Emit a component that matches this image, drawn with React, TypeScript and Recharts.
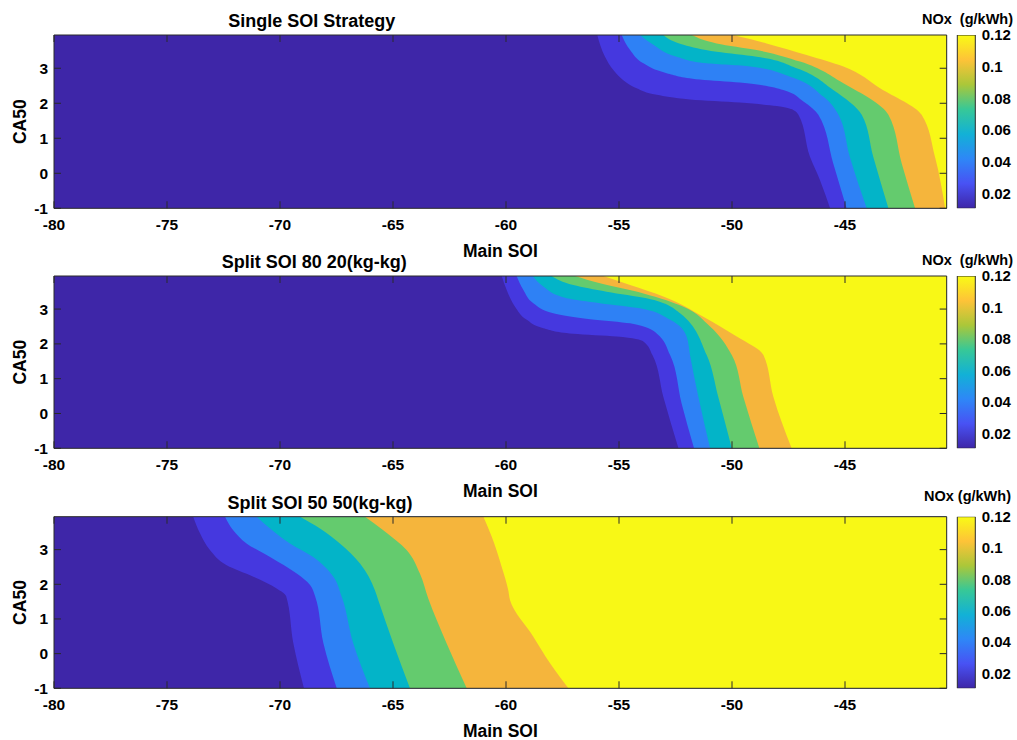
import React from "react";
import {
  ComposedChart,
  Area,
  Bar,
  XAxis,
  YAxis,
  CartesianGrid,
} from "recharts";

// [CA50, Main SOI] points along each contour edge, bottom to top
type Pt = [number, number];

const soiTicks = [-80, -75, -70, -65, -60, -55, -50, -45];
const ca50Ticks = [-1, 0, 1, 2, 3];
const noxTicks = [0.02, 0.04, 0.06, 0.08, 0.1, 0.12];
const soiDomain: [number, number] = [-80, -40.5];
const ca50Domain: [number, number] = [-1, 3.95];
const noxRange: [number, number] = [0.0105, 0.12];

// Single SOI strategy: edges between the 7 NOx bands (low -> high)
const singleEdges: Pt[][] = [
  [[-1, -45.66], [-0.19, -46.11], [0.47, -46.55], [1.67, -47.06], [1.81, -47.29], [1.92, -48.02], [2.02, -49.65], [2.11, -51.86], [2.24, -53.33], [2.43, -54.22], [2.66, -54.81], [2.95, -55.25], [3.33, -55.62], [3.95, -55.96]],
  [[-1, -44.93], [0.28, -45.52], [1.67, -46.18], [2.05, -46.84], [2.38, -47.73], [2.59, -49.65], [2.68, -51.42], [2.86, -52.89], [3.14, -53.92], [3.52, -54.51], [3.95, -54.88]],
  [[-1, -44.04], [0.47, -44.79], [1.67, -45.29], [2.19, -45.96], [2.76, -47.43], [3.05, -49.2], [3.14, -51.12], [3.33, -52.45], [3.67, -53.48], [3.95, -54.07]],
  [[-1, -43.08], [0.47, -43.75], [1.67, -44.26], [2.38, -45.52], [3.0, -47.14], [3.33, -48.91], [3.47, -50.68], [3.67, -52.15], [3.95, -53.04]],
  [[-1, -41.9], [0.28, -42.49], [1.67, -43.08], [2.57, -45.07], [3.19, -46.99], [3.52, -48.91], [3.71, -50.68], [3.95, -51.78]],
  [[-1, -40.57], [0.47, -41.02], [1.67, -41.61], [2.43, -43.45], [3.05, -45.07], [3.38, -46.7], [3.71, -48.47], [3.95, -49.94]],
];

// Split SOI 80 20
const split8020Edges: Pt[][] = [
  [[-1, -52.37], [0.48, -53.04], [1.68, -53.52], [2.07, -53.92], [2.21, -55.1], [2.29, -57.02], [2.45, -58.35], [2.69, -59.08], [3.07, -59.6], [3.55, -59.97], [3.95, -60.19]],
  [[-1, -51.68], [0.29, -52.23], [1.68, -52.74], [2.3, -53.33], [2.59, -54.51], [2.71, -56.28], [2.88, -57.91], [3.17, -58.79], [3.55, -59.23], [3.95, -59.53]],
  [[-1, -50.97], [0.48, -51.49], [1.68, -51.86], [2.21, -52.01], [2.69, -52.74], [3.02, -54.07], [3.17, -55.84], [3.31, -57.31], [3.65, -58.35], [3.95, -58.82]],
  [[-1, -50.01], [0.48, -50.61], [1.68, -51.12], [2.88, -52.3], [3.31, -53.78], [3.5, -55.55], [3.69, -57.02], [3.95, -57.98]],
  [[-1, -48.79], [0.48, -49.5], [1.68, -50.01], [2.5, -50.97], [3.07, -52.15], [3.45, -53.92], [3.74, -55.84], [3.95, -56.95]],
  [[-1, -47.36], [0.48, -48.17], [1.68, -48.61], [2.21, -49.79], [2.78, -51.27], [3.36, -53.04], [3.69, -54.51], [3.95, -55.69]],
];

// Split SOI 50 50
const split5050Edges: Pt[][] = [
  [[-1, -68.94], [0.3, -69.41], [1.66, -69.73], [1.88, -70.15], [2.22, -71.18], [2.55, -72.36], [2.99, -73.1], [3.47, -73.54], [3.95, -73.84]],
  [[-1, -67.49], [0.3, -68.08], [1.66, -68.45], [1.98, -68.67], [2.31, -69.26], [2.79, -70.44], [3.18, -71.48], [3.56, -72.07], [3.95, -72.43]],
  [[-1, -66.02], [0.3, -66.76], [1.64, -67.27], [2.22, -67.64], [2.79, -68.53], [3.18, -69.56], [3.61, -70.44], [3.95, -71.03]],
  [[-1, -64.25], [0.3, -64.99], [1.54, -65.65], [1.83, -65.8], [2.6, -66.46], [3.18, -67.35], [3.61, -68.23], [3.95, -69.11]],
  [[-1, -61.74], [0.3, -62.63], [1.59, -63.44], [2.31, -63.81], [2.99, -64.4], [3.56, -65.43], [3.95, -66.24]],
  [[-1, -57.24], [-0.28, -58.05], [0.49, -58.79], [1.54, -59.82], [1.83, -59.9], [2.5, -60.19], [3.37, -60.63], [3.95, -61.0]],
];

// colour bar: one bar spanning the whole NOx range
const colorbarData = [{ key: "NOx", span: noxRange }];
// rows for the axis-only overlay (gives the x axis something to index)
const axisRows = soiTicks.map((soi) => ({ soi }));

const BASE_COLOR = "#3e26a8";
const BAND_COLORS = ["#4538df", "#2e81f5", "#03b4c8", "#64cb6e", "#f5b53c", "#f8f816"];
const PARULA = ["#3e26a8", "#4852f4", "#2e87f7", "#12b1d6", "#37c897", "#abc739", "#fec338", "#f9fb15"];

const FONT = '"Liberation Sans", Arial, Helvetica, sans-serif';
const EDGE = "#2a2a2a";
const W = 1017;
const H = 260;
const PLOT_LEFT = 54;
const PLOT_RIGHT = 946.7;
const PLOT_BOTTOM = 208.3; // inside each panel's svg
const CB_LEFT = 900;
const CB_W = 117;
const CB_X = 957.3;
const CB_BAR = 18.4;

const panels = [
  { id: "a", title: "Single SOI Strategy", edges: singleEdges, top: 0, plotTop: 35, titleX: 311.7, nox: "NOx  (g/kWh)", noxUp: 11 },
  { id: "b", title: "Split SOI 80 20(kg-kg)", edges: split8020Edges, top: 240, plotTop: 276, titleX: 314.3, nox: "NOx  (g/kWh)", noxUp: 11.5 },
  { id: "c", title: "Split SOI 50 50(kg-kg)", edges: split5050Edges, top: 480, plotTop: 516.7, titleX: 320, nox: "NOx (g/kWh)", noxUp: 16 },
];

const tickStyle = { fill: "#000", fontSize: 15.5, fontWeight: 700, fontFamily: FONT };
const labelStyle = { fill: "#000", fontWeight: 700, fontFamily: FONT };
const box = { position: "absolute" as const, left: 0 };

type Panel = (typeof panels)[number];

// filled contour bands (layered: each edge fills to the right-hand border)
function ContourFill({ p }: { p: Panel }) {
  const mt = p.plotTop - p.top;
  return (
    <div style={{ ...box, top: p.top }}>
      <ComposedChart
        layout="vertical"
        width={W}
        height={H}
        margin={{ top: mt, right: W - PLOT_RIGHT, bottom: H - PLOT_BOTTOM, left: PLOT_LEFT }}
      >
        <CartesianGrid horizontal={false} vertical={false} fill={BASE_COLOR} stroke="none" />
        <XAxis type="number" domain={soiDomain} allowDataOverflow hide />
        <YAxis type="number" dataKey="ca50" domain={ca50Domain} reversed allowDataOverflow hide />
        {p.edges.map((edge, i) => (
          <Area
            key={i}
            data={edge.map(([ca50, soi]) => ({ ca50, soi }))}
            dataKey="soi"
            type="monotone"
            baseValue="dataMax"
            fill={BAND_COLORS[i]}
            fillOpacity={1}
            stroke="none"
            dot={false}
            activeDot={false}
            isAnimationActive={false}
          />
        ))}
      </ComposedChart>
    </div>
  );
}

// box, inward ticks and all axis text, drawn on top of the fill
function PanelAxes({ p }: { p: Panel }) {
  const mt = p.plotTop - p.top;
  const midY = (mt + PLOT_BOTTOM) / 2;
  const midX = (PLOT_LEFT + PLOT_RIGHT) / 2;
  return (
    <div style={{ ...box, top: p.top }}>
      <ComposedChart
        width={W}
        height={H}
        data={axisRows}
        margin={{ top: mt - 1, right: W - PLOT_RIGHT - 1, bottom: H - PLOT_BOTTOM - 50, left: 0 }}
      >
        <XAxis
          dataKey="soi"
          type="number"
          domain={soiDomain}
          allowDataOverflow
          ticks={soiTicks}
          interval={0}
          height={50}
          tickSize={-7}
          tickMargin={17.5}
          axisLine={{ stroke: EDGE }}
          tickLine={{ stroke: EDGE }}
          tick={tickStyle}
          label={() => (
            <text x={midX} y={PLOT_BOTTOM + 48.5} textAnchor="middle" fontSize={17.5} style={labelStyle}>
              Main SOI
            </text>
          )}
        />
        <XAxis
          xAxisId="top"
          dataKey="soi"
          orientation="top"
          type="number"
          domain={soiDomain}
          allowDataOverflow
          ticks={soiTicks}
          interval={0}
          height={1}
          tickSize={-7}
          tick={() => null}
          axisLine={{ stroke: EDGE }}
          tickLine={{ stroke: EDGE }}
          label={() => (
            <text x={p.titleX} y={mt - 8.2} textAnchor="middle" fontSize={18} style={labelStyle}>
              {p.title}
            </text>
          )}
        />
        <YAxis
          type="number"
          domain={ca50Domain}
          allowDataOverflow
          ticks={ca50Ticks}
          interval={0}
          width={PLOT_LEFT}
          tickSize={-7}
          tickMargin={13}
          axisLine={{ stroke: EDGE }}
          tickLine={{ stroke: EDGE }}
          tick={tickStyle}
          label={() => (
            <text
              x={19.5}
              y={midY}
              dy="0.355em"
              textAnchor="middle"
              fontSize={17.5}
              transform={`rotate(-90 19.5 ${midY})`}
              style={labelStyle}
            >
              CA50
            </text>
          )}
        />
        <YAxis
          yAxisId="right"
          orientation="right"
          type="number"
          domain={ca50Domain}
          allowDataOverflow
          ticks={ca50Ticks}
          interval={0}
          width={1}
          tickSize={-7}
          tick={() => null}
          axisLine={{ stroke: EDGE }}
          tickLine={{ stroke: EDGE }}
        />
      </ComposedChart>
    </div>
  );
}

function ColorBar({ p }: { p: Panel }) {
  const mt = p.plotTop - p.top;
  const gid = `parula-${p.id}`;
  const left = CB_X - CB_LEFT;
  return (
    <div style={{ position: "absolute", left: CB_LEFT, top: p.top }}>
      <ComposedChart
        width={CB_W}
        height={H}
        data={colorbarData}
        barCategoryGap={0}
        margin={{ top: mt, right: 0, bottom: H - PLOT_BOTTOM, left }}
      >
        <defs>
          <linearGradient id={gid} x1="0" y1="1" x2="0" y2="0">
            {PARULA.map((c, i) => (
              <stop key={i} offset={i / (PARULA.length - 1)} stopColor={c} />
            ))}
          </linearGradient>
        </defs>
        <XAxis dataKey="key" type="category" hide />
        <YAxis
          orientation="right"
          type="number"
          domain={noxRange}
          allowDataOverflow
          ticks={noxTicks}
          interval={0}
          width={CB_W - left - CB_BAR}
          axisLine={false}
          tickLine={false}
          tickSize={0}
          tickMargin={6}
          tick={{ ...tickStyle, fontSize: 15 }}
          label={() => (
            <text
              x={left + CB_BAR / 2 + 1}
              y={mt - p.noxUp}
              textAnchor="middle"
              fontSize={14.5}
              style={{ ...labelStyle, whiteSpace: "pre" }}
            >
              {p.nox}
            </text>
          )}
        />
        <Bar
          dataKey="span"
          fill={`url(#${gid})`}
          stroke={EDGE}
          strokeWidth={1}
          isAnimationActive={false}
        />
      </ComposedChart>
    </div>
  );
}

export default function App() {
  return (
    <div
      style={{
        position: "absolute",
        left: 0,
        top: 0,
        width: W,
        height: 740,
        background: "#fff",
        overflow: "hidden",
      }}
    >
      {panels.map((p) => (
        <React.Fragment key={p.id}>
          <ContourFill p={p} />
          <PanelAxes p={p} />
          <ColorBar p={p} />
        </React.Fragment>
      ))}
    </div>
  );
}
